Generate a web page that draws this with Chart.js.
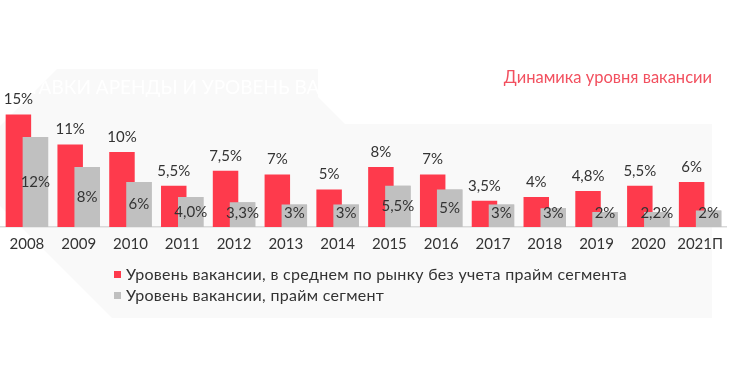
<!DOCTYPE html>
<html>
<head>
<meta charset="utf-8">
<script src="https://cdn.jsdelivr.net/npm/chart.js@4.4.0/dist/chart.umd.min.js"></script>
<style>
    body { margin: 0; background: #fff; }
    .wrap { position: relative; width: 740px; height: 380px; }
    .legend { position: absolute; left: 114px; font: 16px Lato, sans-serif; letter-spacing: 0.3px; color: #333; white-space: nowrap; }
    .legend i { display: inline-block; width: 7px; height: 7px; margin-right: 5px; vertical-align: 2px; }
</style>
</head>
<body>
<div class="wrap">
    <canvas id="vacancyChart" width="740" height="380"></canvas>
    <div class="legend" style="top: 264px;"><i style="background: #fe3a4c;"></i>Уровень вакансии, в среднем по рынку без учета прайм сегмента</div>
    <div class="legend" style="top: 285px;"><i style="background: #c0c0c0;"></i>Уровень вакансии, прайм сегмент</div>
</div>
<script>
// Vacancy rate data
const years = ['2008', '2009', '2010', '2011', '2012', '2013', '2014', '2015', '2016', '2017', '2018', '2019', '2020', '2021П'];
const marketValues = [15, 11, 10, 5.5, 7.5, 7, 5, 8, 7, 3.5, 4, 4.8, 5.5, 6];
const primeValues = [12, 8, 6, 4, 3.3, 3, 3, 5.5, 5, 3, 2.5, 2, 2, 2.2];
const marketLabels = ['15%', '11%', '10%', '5,5%', '7,5%', '7%', '5%', '8%', '7%', '3,5%', '4%', '4,8%', '5,5%', '6%'];
const primeLabels = ['12%', '8%', '6%', '4,0%', '3,3%', '3%', '3%', '5,5%', '5%', '3%', '3%', '2%', '2,2%', '2%'];

const RED = '#fe3a4c';
const GREY = '#c0c0c0';

// Faint background panel, watermark heading and title
const backdrop = {
    id: 'backdrop',
    beforeDraw(chart) {
        const ctx = chart.ctx;
        ctx.save();
        ctx.fillStyle = '#f9f9f9';
        ctx.beginPath();
        ctx.moveTo(57, 69);
        ctx.lineTo(318, 69);
        ctx.lineTo(318, 97);
        ctx.lineTo(345, 124);
        ctx.lineTo(712, 124);
        ctx.lineTo(712, 318);
        ctx.lineTo(112, 318);
        ctx.lineTo(0, 206);
        ctx.lineTo(0, 126);
        ctx.closePath();
        ctx.fill();
        ctx.clip();
        ctx.beginPath();
        ctx.rect(0, 60, 318, 40);
        ctx.clip();
        ctx.fillStyle = '#ffffff';
        ctx.font = '19px Lato, sans-serif';
        ctx.textBaseline = 'middle';
        ctx.fillText('СТАВКИ АРЕНДЫ И УРОВЕНЬ ВАКАНСИИ', 16, 88);
        ctx.restore();

        ctx.save();
        ctx.fillStyle = '#f2505f';
        ctx.font = '16.5px Lato, sans-serif';
        ctx.textAlign = 'right';
        ctx.textBaseline = 'middle';
        ctx.fillText('Динамика уровня вакансии', 712, 78);
        ctx.restore();
    }
};

// Grey bars sit on top of the red ones; value labels above red, inside grey
const valueLabels = {
    id: 'valueLabels',
    afterDatasetsDraw(chart) {
        const ctx = chart.ctx;
        const base = chart.scales.y.getPixelForValue(0);
        chart.getDatasetMeta(1).data.forEach(bar => bar.draw(ctx));

        ctx.save();
        ctx.fillStyle = '#333';
        ctx.font = '15px Lato, sans-serif';
        ctx.textAlign = 'center';
        ctx.textBaseline = 'middle';
        chart.getDatasetMeta(0).data.forEach((bar, i) => {
            ctx.fillText(marketLabels[i], bar.x, bar.y - 15);
        });
        chart.getDatasetMeta(1).data.forEach((bar, i) => {
            const mid = (bar.y + base) / 2;
            ctx.fillText(primeLabels[i], bar.x, Math.min(mid, base - 14));
        });
        ctx.restore();
    }
};

new Chart(document.getElementById('vacancyChart'), {
    type: 'bar',
    data: {
        labels: years,
        datasets: [
            {
                label: 'Уровень вакансии, в среднем по рынку без учета прайм сегмента',
                data: marketValues,
                backgroundColor: RED,
                barPercentage: 1.5,
                categoryPercentage: 0.656
            },
            {
                label: 'Уровень вакансии, прайм сегмент',
                data: primeValues,
                backgroundColor: GREY,
                barPercentage: 1.5,
                categoryPercentage: 0.656
            }
        ]
    },
    options: {
        responsive: false,
        animation: false,
        layout: { padding: { left: 1, right: 14, top: 77, bottom: 119 } },
        plugins: {
            legend: { display: false },
            tooltip: { enabled: false }
        },
        scales: {
            x: {
                grid: { display: false, drawTicks: false },
                border: { color: '#d9d9d9', width: 1.5 },
                ticks: {
                    color: '#333',
                    font: { family: 'Lato', size: 15 },
                    padding: 8,
                    maxRotation: 0,
                    autoSkip: false
                }
            },
            y: {
                display: false,
                min: 0,
                max: 20
            }
        }
    },
    plugins: [backdrop, valueLabels]
});
</script>
</body>
</html>
